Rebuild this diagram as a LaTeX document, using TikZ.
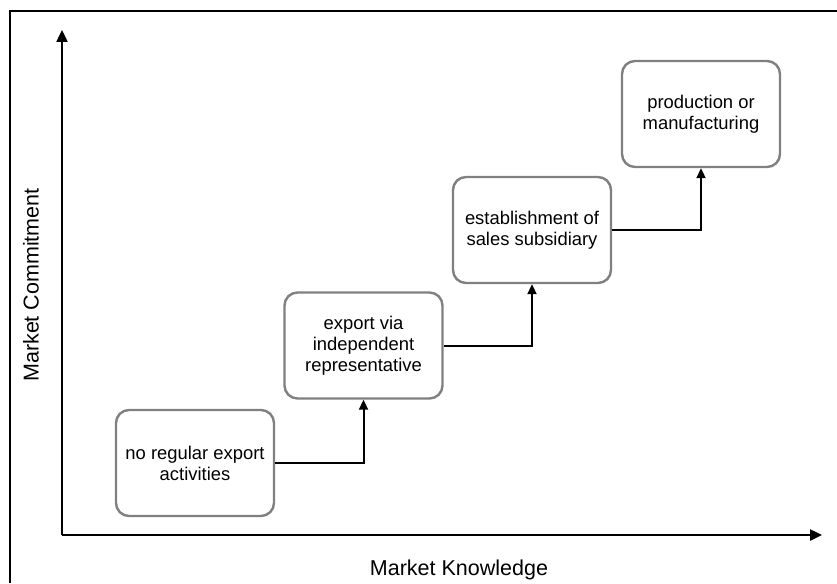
\documentclass[tikz,border=0pt]{standalone}
\usepackage{fontspec}
\setmainfont{Liberation Sans}
\usetikzlibrary{arrows.meta}

\begin{document}
\begin{tikzpicture}[x=1pt, y=-1pt,
    stage/.style={draw=black!50, line width=2.4pt, rounded corners=13pt, fill=white,
      minimum width=158pt, minimum height=106pt, align=center,
      font=\fontsize{18.4}{21}\selectfont},
    axis/.style={line width=2.4pt, -{Triangle[length=12pt, width=11pt]}},
    stepline/.style={line width=2pt, -{Triangle[length=10pt, width=9pt]}}]
  \useasboundingbox (0,0) rectangle (837,583);

  % frame
  \draw[line width=2pt] (10,583) -- (10,11) -- (837,11);

  % axes
  \coordinate (o) at (62,535);
  \coordinate (ytop) at (62,30);
  \coordinate (xend) at (822,535);
  \draw[axis] (o) -- (ytop);
  \draw[axis] (o) -- (xend);
  \node[rotate=90, font=\fontsize{21.5}{24}\selectfont] (ylab) at (31,285) {Market Commitment};
  \node[font=\fontsize{21.5}{24}\selectfont] (xlab) at (459,570) {Market Knowledge};

  % stages
  \node[stage] (s1) at (195,463) {no regular export\\activities};
  \node[stage] (s2) at (363.5,345.5) {export via\\independent\\representative};
  \node[stage] (s3) at (532,230) {establishment of\\sales subsidiary};
  \node[stage] (s4) at (701,114) {production or\\manufacturing};

  \draw[stepline] (s1.east) -| (s2.south);
  \draw[stepline] (s2.east) -| (s3.south);
  \draw[stepline] (s3.east) -| (s4.south);
\end{tikzpicture}
\end{document}
